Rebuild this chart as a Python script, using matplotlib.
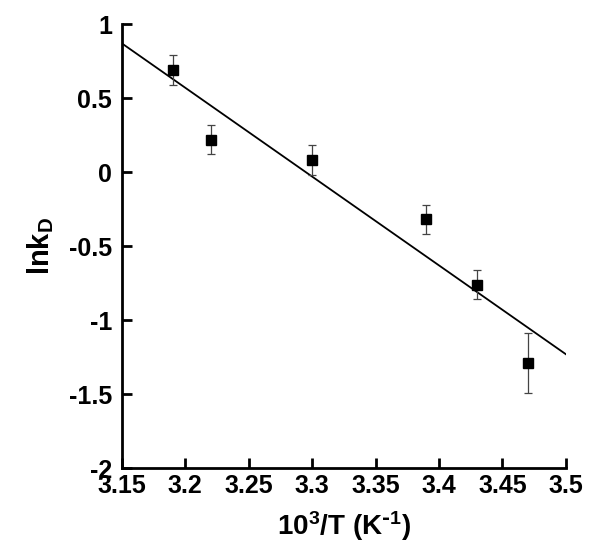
import matplotlib
matplotlib.use('Agg')
import matplotlib.pyplot as plt
import numpy as np

plt.rcParams['font.family'] = ['Liberation Sans', 'DejaVu Sans']
plt.rcParams['font.weight'] = 'bold'
plt.rcParams['mathtext.default'] = 'regular'
plt.rcParams['axes.unicode_minus'] = False

# 数据
inv_t = [3.19, 3.22, 3.30, 3.39, 3.43, 3.47]
ln_kd = [0.69, 0.22, 0.08, -0.32, -0.76, -1.29]
err = [0.10, 0.10, 0.10, 0.10, 0.10, 0.20]
x_ticks = [3.15, 3.2, 3.25, 3.3, 3.35, 3.4, 3.45, 3.5]
x_tick_labels = ['3.15', '3.2', '3.25', '3.3', '3.35', '3.4', '3.45', '3.5']
y_ticks = [-2, -1.5, -1, -0.5, 0, 0.5, 1]
y_tick_labels = ['-2', '-1.5', '-1', '-0.5', '0', '0.5', '1']

fig = plt.figure(figsize=(6, 5.6), dpi=100)
ax = fig.add_axes([0.203, 0.164, 0.74, 0.793])

# 线性拟合
k, b = np.polyfit(inv_t, ln_kd, 1)
xf = np.array([x_ticks[0], x_ticks[-1]])
ax.plot(xf, k * xf + b, color='black', lw=1.3)

ax.errorbar(inv_t, ln_kd, yerr=err, fmt='s', color='black', ms=7.5,
            ecolor='#444444', elinewidth=0.9, capsize=3, capthick=0.9)

ax.set_xlim(3.15, 3.5)
ax.set_ylim(-2, 1)
ax.set_xticks(x_ticks)
ax.set_xticklabels(x_tick_labels)
ax.set_yticks(y_ticks)
ax.set_yticklabels(y_tick_labels)

for s in ['top', 'right']:
    ax.spines[s].set_visible(False)
for s in ['left', 'bottom']:
    ax.spines[s].set_linewidth(2)

ax.tick_params(direction='in', length=7, width=2, labelsize=18)
ax.tick_params(axis='x', pad=4.5)
ax.tick_params(axis='y', pad=7)

ax.set_xlabel(r'10$^{3}$/T (K$^{\text{-}1}$)', fontsize=20, fontweight='bold', labelpad=8)
ax.set_ylabel('lnk$_{D}$', fontsize=21, fontweight='bold', labelpad=9)

fig.savefig('out.png', dpi=100, facecolor='white')
